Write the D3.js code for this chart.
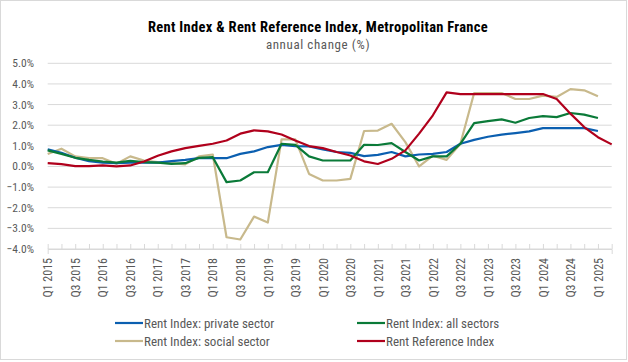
<!DOCTYPE html>
<html>
<head>
<meta charset="utf-8">
<script src="https://cdn.jsdelivr.net/npm/d3@7"></script>
<style>
  body { margin: 0; background: #fff; }
  text { font-family: "Roboto Condensed", "Liberation Sans Narrow", "DejaVu Sans Condensed", sans-serif; }
</style>
</head>
<body>
<div id="chart"></div>
<script>
// quarters Q1 2015 .. Q2 2025
var years = d3.range(2015, 2026);
var quarters = [];
years.forEach(function (y) {
  [1, 2, 3, 4].forEach(function (q) {
    if (y === 2025 && q > 2) return;
    quarters.push("Q" + q + " " + y);
  });
});

var privateSector = [0.83,0.66,0.42,0.26,0.19,0.16,0.19,0.19,0.19,0.26,0.32,0.40,0.40,0.40,0.61,0.73,0.94,1.05,0.99,0.97,
  0.83,0.70,0.66,0.50,0.56,0.70,0.49,0.58,0.61,0.70,1.10,1.29,1.44,1.54,1.62,1.70,1.86,1.86,1.86,1.86,1.72];
var allSectors = [0.78,0.61,0.42,0.32,0.24,0.19,0.27,0.21,0.19,0.13,0.16,0.42,0.45,-0.76,-0.68,-0.28,-0.28,1.10,1.05,0.49,
  0.29,0.29,0.29,1.05,1.04,1.13,0.70,0.29,0.49,0.49,1.10,2.10,2.20,2.28,2.12,2.35,2.44,2.39,2.59,2.51,2.35];
var socialSector = [0.60,0.86,0.49,0.40,0.40,0.13,0.49,0.29,0.21,0.16,0.10,0.49,0.58,-3.43,-3.54,-2.43,-2.72,1.31,1.31,-0.36,
  -0.68,-0.68,-0.60,1.72,1.74,2.07,1.18,0.00,0.52,0.32,1.10,3.56,3.56,3.56,3.27,3.27,3.43,3.37,3.75,3.69,3.40];
var referenceIndex = [0.16,0.11,0.02,0.02,0.05,0.00,0.05,0.24,0.52,0.73,0.89,1.00,1.10,1.26,1.59,1.75,1.70,1.55,1.26,0.99,
  0.89,0.70,0.53,0.25,0.12,0.37,0.78,1.59,2.48,3.59,3.51,3.51,3.51,3.51,3.51,3.51,3.51,3.27,2.56,1.91,1.42,1.07];

var yTicks = [-4, -3, -2, -1, 0, 1, 2, 3, 4, 5];

var series = [
  { name: "Rent Index: private sector", values: privateSector, color: "#0b5fb0" },
  { name: "Rent Index: all sectors", values: allSectors, color: "#0a7a38" },
  { name: "Rent Index: social sector", values: socialSector, color: "#c8b98c" },
  { name: "Rent Reference Index", values: referenceIndex, color: "#b0001c" }
];
// draw order: social first so others sit on top, red last
var drawOrder = [series[2], series[0], series[1], series[3]];

var W = 628, H = 362;
var svg = d3.select("#chart").append("svg").attr("width", W).attr("height", H);

svg.append("rect")
  .attr("x", 0.5).attr("y", 0.5).attr("width", W - 2).attr("height", H - 3)
  .attr("fill", "#fff").attr("stroke", "#d9d9d9");

var x = d3.scaleLinear().domain([0, quarters.length - 1]).range([47.7, 611.7]);
var y = d3.scaleLinear().domain([-4, 5]).range([249, 63.3]);

// gridlines
svg.append("g").selectAll("line")
  .data(yTicks).enter().append("line")
  .attr("x1", x(0)).attr("x2", x(quarters.length - 1))
  .attr("y1", function (d) { return y(d); }).attr("y2", function (d) { return y(d); })
  .attr("stroke", "#d9d9d9").attr("stroke-width", 1);

// y labels
svg.append("g").selectAll("text")
  .data(yTicks).enter().append("text")
  .attr("x", 34).attr("y", function (d) { return y(d) + 4; })
  .attr("text-anchor", "end")
  .attr("font-size", 11.5).attr("fill", "#595959")
  .text(function (d) { return d3.format(".1f")(d) + "%"; });

// x axis
var xAxis = d3.axisBottom(x)
  .tickValues(d3.range(quarters.length))
  .tickSize(5)
  .tickFormat(function (i) { return i % 2 === 0 ? quarters[i] : ""; });
var gx = svg.append("g").attr("transform", "translate(0," + y(-4) + ")").call(xAxis);
gx.select(".domain").attr("stroke", "#d9d9d9");
gx.selectAll(".tick line").attr("stroke", "#d9d9d9").attr("y1", -5).attr("y2", 0);
gx.selectAll(".tick text")
  .attr("transform", "rotate(-90)")
  .attr("x", -9).attr("y", 0).attr("dy", "0.35em")
  .attr("text-anchor", "end")
  .attr("font-size", 12).attr("fill", "#595959")
  .style("font-family", "\"Roboto Condensed\", \"Liberation Sans Narrow\", \"DejaVu Sans Condensed\", sans-serif");

// lines
var line = d3.line()
  .x(function (d, i) { return x(i); })
  .y(function (d) { return y(d); });

svg.append("g").selectAll("path")
  .data(drawOrder).enter().append("path")
  .attr("d", function (d) { return line(d.values); })
  .attr("fill", "none")
  .attr("stroke", function (d) { return d.color; })
  .attr("stroke-width", 2.2)
  .attr("stroke-linejoin", "round");

// title
svg.append("text").attr("x", 318).attr("y", 32).attr("text-anchor", "middle")
  .attr("font-size", 14.5).attr("font-weight", "bold").attr("fill", "#000")
  .attr("letter-spacing", 0.3)
  .text("Rent Index & Rent Reference Index, Metropolitan France");
svg.append("text").attr("x", 318).attr("y", 49).attr("text-anchor", "middle")
  .attr("font-size", 13).attr("fill", "#595959")
  .attr("letter-spacing", 0.6)
  .text("annual change (%)");

// legend
var legendPos = [[115, 323], [357, 323], [115, 341], [357, 341]];
var lg = svg.append("g").selectAll("g")
  .data(series).enter().append("g")
  .attr("transform", function (d, i) { return "translate(" + legendPos[i] + ")"; });
lg.append("line").attr("x1", 0).attr("x2", 28).attr("y1", 0).attr("y2", 0)
  .attr("stroke", function (d) { return d.color; }).attr("stroke-width", 2.2);
lg.append("text").attr("x", 29).attr("y", 4.5)
  .attr("font-size", 13).attr("fill", "#595959")
  .text(function (d) { return d.name; });
</script>
</body>
</html>
